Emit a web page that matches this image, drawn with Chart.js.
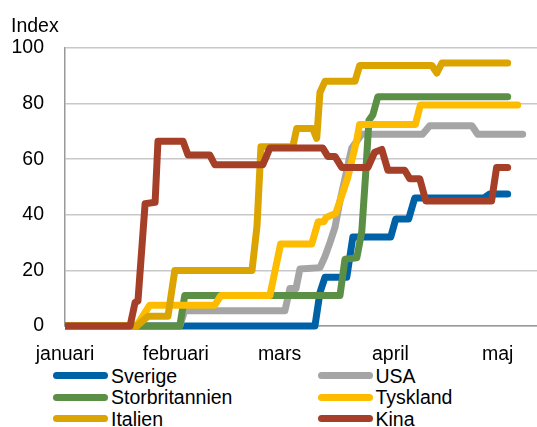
<!DOCTYPE html>
<html>
<head>
<meta charset="utf-8">
<script src="https://cdn.jsdelivr.net/npm/chart.js@4/dist/chart.umd.min.js"></script>
<style>
  html, body { margin: 0; padding: 0; background: #fff; }
  #wrap { position: relative; width: 537px; height: 427px; overflow: hidden; font-family: "Liberation Sans", Arial, Helvetica, sans-serif; color: #000; }
  #c { position: absolute; left: 0; top: 0; }
  .txt { position: absolute; font-size: 19.5px; line-height: 22px; white-space: nowrap; }
  .sw { position: absolute; height: 7px; width: 55px; border-radius: 3.5px; }
</style>
</head>
<body>
<div id="wrap">
  <canvas id="c" width="537" height="365"></canvas>
  <div class="txt" style="left:11px; top:14px;">Index</div>
  <div id="legend"></div>
</div>
<script>
// ---- data (days since 1 January, index values) ----
const monthLabels = ['januari', 'februari', 'mars', 'april', 'maj'];
const monthStartDays = [0, 31, 60, 91, 121];
const yTicks = [0, 20, 40, 60, 80, 100];

const seriesNames = ['Sverige', 'USA', 'Storbritannien', 'Tyskland', 'Italien', 'Kina'];
const seriesColors = ['#0062a6', '#a5a5a5', '#5b8f45', '#fdbc00', '#dca400', '#a63f28'];

const sverigeDays   = [0, 69.9, 71.3, 72.7, 78.8, 80.5, 91.1, 92.5, 96.1, 97.8, 117.1, 118.8, 123.8];
const sverigeValues = [0, 0, 12, 17.5, 17.5, 32, 32, 38.5, 38.5, 46, 46, 47.5, 47.5];

const usaDays   = [0, 32.1, 33.5, 61.5, 62.9, 64.6, 65.7, 71.3, 72.7, 74.1, 75.5, 76.9, 80.2, 83, 100, 102, 113.8, 115.4, 128];
const usaValues = [0, 0, 5.5, 5.5, 13.5, 13.5, 20.5, 21, 25, 30, 35.5, 45, 64, 69, 69, 72, 72, 69, 69];

const ukDays   = [0, 32.1, 33.5, 76.9, 78.3, 81.6, 83, 84.1, 85, 86.1, 87.5, 123.8];
const ukValues = [0, 0, 11, 11, 24, 24.5, 34, 55, 74, 76, 82.5, 82.5];

const tysklandDays   = [0, 20, 23.7, 41.9, 43.6, 57.3, 60.3, 69, 70.8, 72.4, 73, 75.7, 76.9, 79.1, 81.6, 82.4, 98, 99.4, 126.6];
const tysklandValues = [0, 0, 7.5, 7.5, 11, 11, 29.5, 29.5, 37.5, 37.5, 39, 40.5, 45, 53.5, 67, 72.5, 72.5, 79.5, 79.5];

const italienDays   = [0, 20.1, 23.2, 28.8, 30.7, 52.3, 53.7, 54.8, 63.7, 64.8, 69.3, 70.4, 71.3, 72.7, 81.1, 82.4, 102.6, 104, 105.4, 123.8];
const italienValues = [0, 0, 3.5, 3.5, 20, 20, 36, 64.5, 64.5, 71, 71, 67.5, 84, 88, 88, 93.7, 93.7, 91, 94.6, 94.6];

const kinaDays   = [0, 18.2, 19.6, 20.4, 22.4, 25.2, 26, 33, 34.4, 40.5, 41.9, 55.3, 57.3, 72.1, 73.5, 75.5, 77.4, 84.7, 86.6, 88.6, 90.3, 95, 96.4, 99.2, 100.9, 119.3, 120.7, 123.8];
const kinaValues = [0, 0, 8.5, 9, 44, 44.5, 66.5, 66.5, 61.5, 61.5, 58, 58, 64, 64, 61, 61, 57, 57, 62.5, 63.5, 56, 56, 53, 53, 45, 45, 57, 57];

const seriesDays = [sverigeDays, usaDays, ukDays, tysklandDays, italienDays, kinaDays];
const seriesValues = [sverigeValues, usaValues, ukValues, tysklandValues, italienValues, kinaValues];

// ---- build chart ----
const FONT = { family: '"Liberation Sans", Arial, Helvetica, sans-serif', size: 19.5 };

const datasets = seriesNames.map((name, i) => ({
  label: name,
  data: seriesDays[i].map((d, k) => ({ x: d, y: seriesValues[i][k] })),
  borderColor: seriesColors[i],
  backgroundColor: seriesColors[i],
  borderWidth: 7,
  pointRadius: 0,
  tension: 0,
  fill: false,
  borderCapStyle: 'round',
  borderJoinStyle: 'round',
  clip: { left: 0, top: 8, right: 8, bottom: 8 },
  order: seriesNames.length - i
}));

new Chart(document.getElementById('c'), {
  type: 'line',
  data: { datasets },
  options: {
    responsive: false,
    animation: false,
    devicePixelRatio: 1,
    events: [],
    layout: { padding: { top: 48, left: 0, right: 0, bottom: 0 } },
    plugins: { legend: { display: false }, tooltip: { enabled: false } },
    scales: {
      x: {
        type: 'linear',
        min: 0,
        max: 132,
        afterBuildTicks: (s) => { s.ticks = monthStartDays.map(v => ({ value: v })); },
        afterFit: (s) => { s.height = 39; },
        ticks: {
          autoSkip: false,
          maxRotation: 0,
          padding: 17,
          color: '#000',
          font: FONT,
          callback: (v) => monthLabels[monthStartDays.indexOf(v)]
        },
        grid: { display: false, drawTicks: false },
        border: { display: true, color: '#999999', width: 1.5 }
      },
      y: {
        min: 0,
        max: 100,
        afterBuildTicks: (s) => { s.ticks = yTicks.map(v => ({ value: v })); },
        afterFit: (s) => { s.width = 65; },
        ticks: { padding: 21, color: '#000', font: FONT },
        grid: { color: '#c8c8c8', lineWidth: 1.5, drawTicks: false },
        border: { display: true, color: '#999999', width: 1.5 }
      }
    }
  }
});

// ---- legend (2 columns) ----
const legendEl = document.getElementById('legend');
const rowCenters = [375.3, 397, 418.7];
const colSwatchX = [53, 318];
const colTextX = [111, 375.5];
seriesNames.forEach((name, i) => {
  const row = Math.floor(i / 2), col = i % 2;
  const sw = document.createElement('div');
  sw.className = 'sw';
  sw.style.left = colSwatchX[col] + 'px';
  sw.style.top = (rowCenters[row] - 3.5) + 'px';
  sw.style.background = seriesColors[i];
  legendEl.appendChild(sw);
  const t = document.createElement('div');
  t.className = 'txt';
  t.style.left = colTextX[col] + 'px';
  t.style.top = (rowCenters[row] - 10.6) + 'px';
  t.textContent = name;
  legendEl.appendChild(t);
});
</script>
</body>
</html>
